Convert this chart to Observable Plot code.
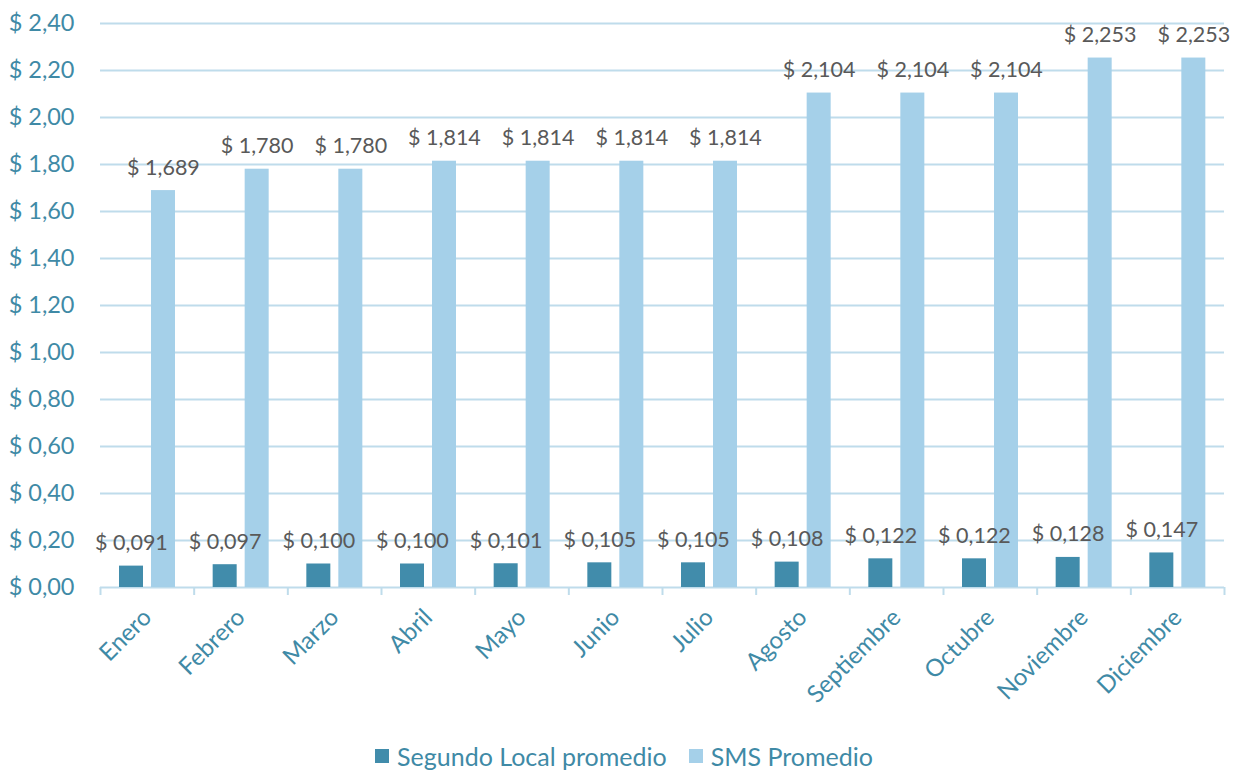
<!DOCTYPE html>
<html><head><meta charset="utf-8">
<script src="https://cdn.jsdelivr.net/npm/d3@7"></script>
<script src="https://cdn.jsdelivr.net/npm/@observablehq/plot@0.6"></script>
<style>
body{margin:0;background:#fff;font-family:Lato,"Open Sans",sans-serif;}
#legend{display:flex;justify-content:center;align-items:center;gap:22px;height:35px;font-size:25px;color:#3f8aa6;margin-left:6px;margin-top:5px}
#legend span.sw{display:inline-block;width:14px;height:14px;margin-right:8px}
#legend div{display:flex;align-items:center}
</style></head>
<body><div id="chart"></div><div id="legend"></div>
<script>
const months = ["Enero","Febrero","Marzo","Abril","Mayo","Junio","Julio","Agosto","Septiembre","Octubre","Noviembre","Diciembre"];
const segundoLocal = [0.091,0.097,0.100,0.100,0.101,0.105,0.105,0.108,0.122,0.122,0.128,0.147];
const smsPromedio = [1.689,1.780,1.780,1.814,1.814,1.814,1.814,2.104,2.104,2.104,2.253,2.253];
const seriesNames = ["Segundo Local promedio","SMS Promedio"];
const yTicks = [0,0.2,0.4,0.6,0.8,1.0,1.2,1.4,1.6,1.8,2.0,2.2,2.4];

const colors = ["#418cab","#a5d0e9"];
const W = 1242, H = 733, mL = 100, mR = 18, mT = 23, mB = 146;
const bw = (W - mL - mR) / months.length;

const dark = months.map((m,i)=>({month:m, value:segundoLocal[i]}));
const light = months.map((m,i)=>({month:m, value:smsPromedio[i]}));
const fmt3 = v => "$ " + v.toFixed(3).replace(".", ",");
const fmt2 = v => "$ " + v.toFixed(2).replace(".", ",");

const chart = Plot.plot({
  width: W, height: H,
  marginLeft: mL, marginRight: mR, marginTop: mT, marginBottom: mB,
  style: {fontFamily: "Lato, 'Open Sans', sans-serif", background: "#fff"},
  x: {domain: months, padding: 0, round: false, axis: null, label: null},
  y: {domain: [0, 2.4], axis: null, label: null},
  marks: [
    Plot.ruleY(yTicks, {stroke: "#bfdceb", strokeWidth: 2}),
    Plot.ruleX(months, {x: d => d, dx: -bw/2, y1: 0, y2: -0.034, stroke: "#bfdceb", strokeWidth: 2}),
    Plot.ruleX([months[months.length-1]], {x: d => d, dx: bw/2, y1: 0, y2: -0.034, stroke: "#bfdceb", strokeWidth: 2}),
    Plot.barY(dark, {x: "month", y: "value", fill: colors[0], insetLeft: 19, insetRight: bw - 43}),
    Plot.barY(light, {x: "month", y: "value", fill: colors[1], insetLeft: 51, insetRight: bw - 75}),
    Plot.text(dark, {x: "month", y: "value", text: d => fmt3(d.value), dx: -15.85, dy: -16, lineAnchor: "bottom", fill: "#595959", fontSize: 21.5}),
    Plot.text(light, {x: "month", y: "value", text: d => fmt3(d.value), dx: 16.15, dy: -16, lineAnchor: "bottom", fill: "#595959", fontSize: 21.5}),
    Plot.axisY(yTicks, {tickSize: 0, tickPadding: 26, tickFormat: fmt2, fontSize: 23.5, fill: "#3f8aa6", textAnchor: "end", label: null}),
    Plot.axisX({tickSize: 0, tickPadding: 26, tickRotate: -45, fontSize: 24, fill: "#3f8aa6", label: null})
  ]
});
document.getElementById("chart").appendChild(chart);

const legend = document.getElementById("legend");
seriesNames.forEach((n,i)=>{
  const d = document.createElement("div");
  d.innerHTML = `<span class="sw" style="background:${colors[i]}"></span>${n}`;
  legend.appendChild(d);
});
</script></body></html>
